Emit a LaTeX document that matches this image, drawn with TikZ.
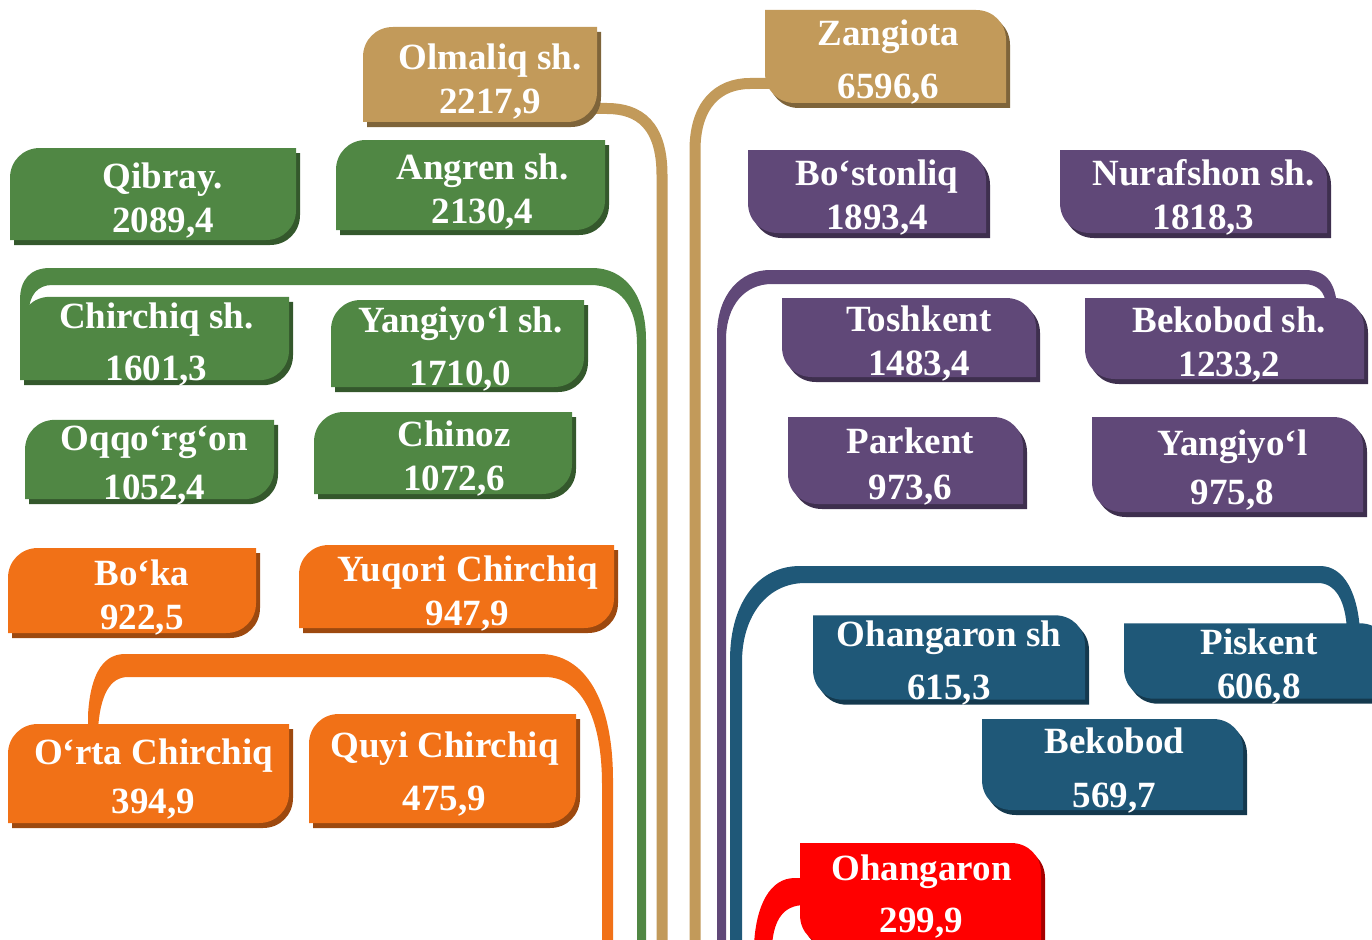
\documentclass[tikz,border=0pt]{standalone}
\usepackage{fontspec}
\setmainfont{Liberation Serif}
\usetikzlibrary{calc, backgrounds}

\definecolor{cTan}{HTML}{C29A5A}
\definecolor{cGrn}{HTML}{508744}
\definecolor{cOrg}{HTML}{F17117}
\definecolor{cPur}{HTML}{604878}
\definecolor{cBlu}{HTML}{1F5878}
\definecolor{cRed}{HTML}{FF0000}

\tikzset{
  city/.style={inner sep=0pt, outer sep=0pt, align=center, text=white,
    font=\fontsize{37}{44}\selectfont\bfseries},
  tanline/.style={draw=cTan, line width=11pt},
}

% box with rounded top-left and bottom-right corners
\newcommand{\leafL}[1]{([yshift=-30pt]#1.north west) .. controls ([yshift=-13pt]#1.north west) and ([xshift=13pt]#1.north west) .. ([xshift=30pt]#1.north west) -- (#1.north east) -- ([yshift=30pt]#1.south east) .. controls ([yshift=13pt]#1.south east) and ([xshift=-13pt]#1.south east) .. ([xshift=-30pt]#1.south east) -- (#1.south west) -- cycle}
% box with rounded top-right and bottom-left corners
\newcommand{\leafR}[1]{([xshift=-30pt]#1.north east) .. controls ([xshift=-13pt]#1.north east) and ([yshift=-13pt]#1.north east) .. ([yshift=-30pt]#1.north east) -- (#1.south east) -- ([xshift=30pt]#1.south west) .. controls ([xshift=13pt]#1.south west) and ([yshift=13pt]#1.south west) .. ([yshift=30pt]#1.south west) -- (#1.north west) -- cycle}

\begin{document}
\begin{tikzpicture}[x=1pt, y=-1pt]
    \useasboundingbox (0,0) rectangle (1372,939);

    % Left half (text centres; boxes are drawn back by the offsets below)
    \node[city, minimum width=234pt, minimum height=95pt] (olm) at (490,81.5) {Olmaliq sh.\\2217,9};
    \node[city, minimum width=286pt, minimum height=92pt] (qib) at (163,201) {Qibray.\\2089,4};
    \node[city, minimum width=269pt, minimum height=90pt] (ang) at (482.5,192) {Angren sh.\\2130,4};
    \node[city, minimum width=269pt, minimum height=81pt] (chi) at (156.5,344.5) {Chirchiq sh.\\[8pt]1601,3};
    \node[city, minimum width=253pt, minimum height=87pt] (yan) at (460.5,349.5) {Yangiyo‘l sh.\\[9pt]1710,0};
    \node[city, minimum width=249pt, minimum height=79pt] (oqq) at (154.5,465.5) {Oqqoʻrgʻon\\[5pt]1052,4};
    \node[city, minimum width=258pt, minimum height=82pt] (chn) at (454,459) {Chinoz\\1072,6};
    \node[city, minimum width=248pt, minimum height=85pt] (bok) at (142,597.5) {Bo‘ka\\922,5};
    \node[city, minimum width=315pt, minimum height=83pt] (yuq) at (467.5,593.5) {Yuqori Chirchiq\\947,9};
    \node[city, minimum width=281pt, minimum height=99pt] (ort) at (153.5,779.5) {O‘rta Chirchiq\\[5pt]394,9};
    \node[city, minimum width=267pt, minimum height=109pt] (quy) at (444.5,774.5) {Quyi Chirchiq\\[9pt]475,9};

    % Right half
    \node[city, minimum width=241pt, minimum height=93pt] (zan) at (888.5,62.5) {Zangiota\\[9pt]6596,6};
    \node[city, minimum width=238pt, minimum height=83pt] (bos) at (877,197.5) {Boʻstonliq\\1893,4};
    \node[city, minimum width=267pt, minimum height=83pt] (nur) at (1203.5,197.5) {Nurafshon sh.\\1818,3};
    \node[city, minimum width=254pt, minimum height=79pt] (tos) at (919,343.5) {Toshkent\\1483,4};
    \node[city, minimum width=279pt, minimum height=81pt] (bks) at (1229.5,344.5) {Bekobod sh.\\1233,2};
    \node[city, minimum width=235pt, minimum height=87pt] (par) at (910.5,466.5) {Parkent\\[2pt]973,6};
    \node[city, minimum width=271pt, minimum height=95pt] (yny) at (1232.5,470.5) {Yangiyo‘l\\[5pt]975,8};
    \node[city, minimum width=272pt, minimum height=81pt] (ohs) at (949,663.5) {Ohangaron sh\\[9pt]615,3};
    \node[city, minimum width=266pt, minimum height=74pt] (pis) at (1259,667) {Piskent\\606,8};
    \node[city, minimum width=261pt, minimum height=91pt] (bek) at (1114.5,770.5) {Bekobod\\[10pt]569,7};
    \node[city, minimum width=241pt, minimum height=102pt] (ohr) at (921.5,897) {Ohangaron\\[8pt]299,9};

    \begin{scope}[on background layer]
    % Tan connectors
    \coordinate (tanL) at (662,945);
    \coordinate (tanR) at (695,945);
    \draw[tanline] ($(olm.east)+(-13,27)$) -- ++(13,0) .. controls +(32,0) and +(0,-50) .. (662,175) -- (tanL);
    \draw[tanline] ($(zan.west)+(4,21)$) -- ++(-22,0) .. controls +(-32,0) and +(0,-45) .. (695,150) -- (tanR);

    % Green band
    \fill[cGrn] ($(chi.north west)+(-2,39)$) -- (20,300) .. controls (20,280) and (30,268) .. (50,268) -- (592,268)
        .. controls (625,268) and (646,295) .. (646,340) -- (646,945) -- (637,945) -- (637,345)
        .. controls (637,305) and (620,285) .. (590,285) -- (52,285) .. controls (38,285) and (29,295) .. (29,312) -- (29,343) -- cycle;

    % Orange band
    \fill[cOrg] ($(ort.north west)+(75,0)$) -- (88,715) .. controls (90,680) and (100,654) .. (125,654) -- (540,654)
        .. controls (585,654) and (613,700) .. (613,780) -- (613,945) -- (602,945) -- (602,785)
        .. controls (602,715) and (580,677) .. (545,677) -- (128,677) .. controls (110,677) and (100,695) .. (98,730) -- cycle;

    % Purple band
    \fill[cPur] ($(bks.north east)+(-32,1)$) .. controls (1335,285) and (1328,270) .. (1305,270) -- (770,270)
        .. controls (740,270) and (717,295) .. (717,335) -- (717,945) -- (726,945) -- (726,340)
        .. controls (726,305) and (745,284) .. (772,284) -- (1303,284) .. controls (1318,284) and (1325,292) .. (1326,305) -- cycle;

    % Blue band
    \fill[cBlu] ($(pis.north east)+(-32,2)$) .. controls (1358,595) and (1345,566) .. (1320,566) -- (800,566)
        .. controls (760,566) and (730,600) .. (730,660) -- (730,945) -- (742,945) -- (742,662)
        .. controls (742,615) and (768,583) .. (805,583) -- (1318,583) .. controls (1335,583) and (1346,600) .. (1347,632) -- cycle;

    % Red connector
    \fill[cRed] ($(ohr.west)+(4,-19)$) -- (795,878) .. controls (770,878) and (756,905) .. (754,945)
        -- (772,945) .. controls (774,920) and (783,905) .. (805,905) -- cycle;

    % Boxes with shadow, drawn back from the text by \dx,\dy
    \foreach \n/\c/\dx/\dy in {olm/cTan/10/7, qib/cGrn/10/7, ang/cGrn/12/7, chi/cGrn/2/6, yan/cGrn/3/6, oqq/cGrn/5/6,
        chn/cGrn/11/6, bok/cOrg/10/7, yuq/cOrg/11/7, ort/cOrg/5/6, quy/cOrg/2/6}{
      \begin{scope}[transform canvas={xshift=(4-\dx)*1pt, yshift=(\dy-5)*1pt}]
        \fill[\c!65!black] \leafL{\n};
      \end{scope}
      \begin{scope}[transform canvas={xshift=-\dx*1pt, yshift=\dy*1pt}]
        \fill[\c] \leafL{\n};
      \end{scope}
    }
    \foreach \n/\c/\dx/\dy in {zan/cTan/3/6, bos/cPur/10/6, nur/cPur/10/6, tos/cPur/10/6, bks/cPur/5/6, par/cPur/5/6,
        yny/cPur/5/6, ohs/cBlu/0/6, pis/cBlu/2/6, bek/cBlu/2/6, ohr/cRed/1/3}{
      \begin{scope}[transform canvas={xshift=(4-\dx)*1pt, yshift=(\dy-5)*1pt}]
        \fill[\c!65!black] \leafR{\n};
      \end{scope}
      \begin{scope}[transform canvas={xshift=-\dx*1pt, yshift=\dy*1pt}]
        \fill[\c] \leafR{\n};
      \end{scope}
    }
    \end{scope}
\end{tikzpicture}
\end{document}
